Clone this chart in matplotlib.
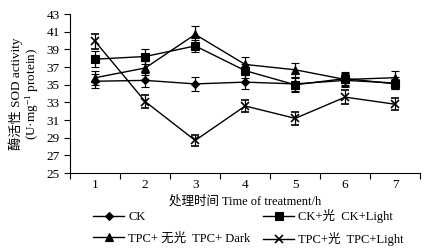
import matplotlib
matplotlib.use("Agg")
import matplotlib.pyplot as plt
import numpy as np
from matplotlib.lines import Line2D

plt.rcParams['font.family'] = ['Liberation Serif', 'Noto Sans CJK SC']
plt.rcParams['mathtext.fontset'] = 'custom'
plt.rcParams['mathtext.rm'] = 'Liberation Serif'
plt.rcParams['mathtext.it'] = 'Liberation Serif'

hours = [1, 2, 3, 4, 5, 6, 7]
ck = [35.4, 35.5, 35.1, 35.3, 35.1, 35.5, 35.2]
ck_err = [0.8, 0.8, 0.8, 0.8, 0.8, 0.7, 0.7]
ck_light = [37.9, 38.2, 39.4, 36.6, 35.0, 35.7, 35.1]
ck_light_err = [0.9, 0.8, 0.7, 0.8, 0.8, 0.7, 0.6]
tpc_dark = [35.8, 36.9, 40.7, 37.3, 36.7, 35.6, 35.8]
tpc_dark_err = [0.8, 0.8, 1.0, 0.8, 0.8, 0.7, 0.8]
tpc_light = [39.9, 33.1, 28.7, 32.6, 31.2, 33.6, 32.8]
tpc_light_err = [0.8, 0.7, 0.6, 0.7, 0.7, 0.8, 0.7]

labels = ['CK', 'CK+光  CK+Light', 'TPC+ 无光  TPC+ Dark', 'TPC+光  TPC+Light']
markers = ['D', 's', '^', 'x']
msizes = [4.5, 6, 6, 6]
yticks = [25, 27, 29, 31, 33, 35, 37, 39, 41, 43]

fig = plt.figure(figsize=(4.39, 2.52), dpi=100)
ax = fig.add_axes([0.16, 0.313, 0.797, 0.631])

for vals, errs, m, ms, lab in zip([ck, ck_light, tpc_dark, tpc_light],
                                   [ck_err, ck_light_err, tpc_dark_err, tpc_light_err],
                                   markers, msizes, labels):
    ax.errorbar(hours, vals, yerr=errs, color='black', marker=m, markersize=ms,
                linewidth=1.0, elinewidth=0.9, capsize=3, capthick=0.9,
                markeredgewidth=1.2 if m == 'x' else 0.8, label=lab)

ax.set_xlim(0.5, 7.5)
ax.set_ylim(25, 43)
ax.set_yticks(yticks)
ax.set_xticks(hours)
ax.set_xticks(np.arange(0.5, 7.6, 1.0), minor=True)
ax.tick_params(axis='x', which='major', length=0, labelsize=9.5, pad=4)
ax.tick_params(axis='x', which='minor', length=4, direction='out', width=0.8)
ax.tick_params(axis='y', labelsize=9.5, length=4, direction='out', width=0.8)
for s in ['top', 'right']:
    ax.spines[s].set_visible(False)
for s in ['left', 'bottom']:
    ax.spines[s].set_linewidth(0.8)

ax.set_xlabel('处理时间 Time of treatment/h', fontsize=9, labelpad=3)
ax.set_ylabel('酶活性 SOD activity\n(U·mg$^{-1}$ protein)', fontsize=9.5, labelpad=4,
              linespacing=1.0)

leg_handles = [Line2D([0], [0], color='black', marker=m, markersize=ms, linewidth=1.0,
                      markeredgewidth=1.2 if m == 'x' else 0.8)
               for m, ms in zip(markers, msizes)]
order = [0, 2, 1, 3]
fig.legend([leg_handles[i] for i in order], [labels[i] for i in order],
           loc='upper left', bbox_to_anchor=(0.198, 0.195),
           ncol=2, frameon=False, fontsize=9, handlelength=2.5, handletextpad=0.3,
           columnspacing=1.0, labelspacing=0.75, borderpad=0)

fig.savefig('out.png', dpi=100)
